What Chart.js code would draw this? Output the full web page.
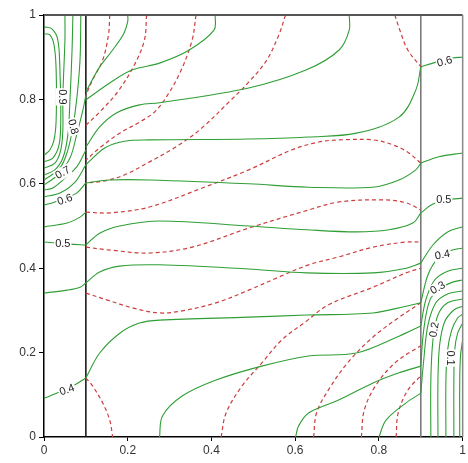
<!DOCTYPE html>
<html>
<head>
<meta charset="utf-8">
<script src="https://cdn.jsdelivr.net/npm/chart.js@4"></script>
<style>
  body { margin: 0; background: #fff; }
  #wrap { width: 468px; height: 463px; }
</style>
</head>
<body>
<div id="wrap"><canvas id="myChart" width="468" height="463"></canvas></div>
<script>
// contour data (x, y in 0..1)
// left strip 0 < x < 0.1
const left1 = [[0,0.955],[0.014,0.953],[0.024,0.929],[0.029,0.870],[0.029,0.751],[0.024,0.704],[0.014,0.680],[0,0.668]];
const left2 = [[0,0.972],[0.019,0.967],[0.033,0.941],[0.038,0.870],[0.040,0.751],[0.036,0.692],[0.021,0.661],[0,0.652]];
const left3 = [[0.050,1],[0.050,0.941],[0.045,0.806],[0.045,0.727],[0.040,0.680],[0.026,0.649],[0,0.637]];
const left4 = [[0.069,1],[0.067,0.917],[0.062,0.799],[0.057,0.716],[0.045,0.661],[0.026,0.633],[0,0.621]];
const left5 = [[0.088,1],[0.086,0.893],[0.078,0.799],[0.069,0.735],[0.057,0.680],[0.038,0.637],[0,0.609]];
const left6 = [[0.1,0.810],[0.093,0.775],[0.078,0.716],[0.062,0.661],[0.033,0.621],[0,0.597]];
const left7 = [[0.1,0.680],[0.078,0.640],[0.045,0.609],[0.021,0.590],[0,0.585]];
const left8 = [[0.1,0.645],[0.074,0.604],[0.038,0.578],[0,0.569]];
const left9 = [[0.1,0.602],[0.078,0.578],[0.050,0.566],[0.021,0.555],[0,0.550]];
const left10 = [[0.1,0.533],[0.086,0.521],[0.055,0.507],[0,0.498]];
const left11 = [[0.1,0.455],[0.062,0.457],[0,0.462]];
const left12 = [[0.1,0.365],[0.086,0.355],[0.055,0.348],[0,0.341]];
const left13 = [[0.1,0.140],[0.069,0.121],[0.014,0.097],[0,0.092]];

// middle 0.1 < x < 0.9
const mid1 = [[0.1,0.818],[0.133,0.877],[0.164,0.917],[0.190,0.955],[0.2,0.985],[0.2,1]];
const mid2 = [[0.1,0.799],[0.157,0.839],[0.211,0.870],[0.276,0.886],[0.347,0.917],[0.406,0.964],[0.409,1]];
const mid3 = [[0.1,0.687],[0.133,0.735],[0.173,0.768],[0.228,0.787],[0.276,0.792],[0.489,0.827],[0.627,0.870],[0.705,0.917],[0.729,0.964],[0.729,1]];
const mid4 = [[0.1,0.645],[0.145,0.685],[0.192,0.701],[0.252,0.704],[0.489,0.706],[0.632,0.711],[0.746,0.720],[0.848,0.758],[0.888,0.822],[0.9,0.877]];
const mid5 = [[0.1,0.602],[0.157,0.609],[0.252,0.609],[0.489,0.600],[0.632,0.592],[0.786,0.592],[0.848,0.609],[0.888,0.633],[0.9,0.649]];
const mid6 = [[0.1,0.455],[0.133,0.483],[0.181,0.500],[0.276,0.512],[0.489,0.500],[0.627,0.491],[0.746,0.486],[0.824,0.491],[0.881,0.507],[0.9,0.531]];
const mid7 = [[0.1,0.365],[0.133,0.391],[0.181,0.405],[0.276,0.408],[0.489,0.398],[0.627,0.389],[0.786,0.389],[0.865,0.400],[0.9,0.412]];
const mid8 = [[0.1,0.140],[0.133,0.199],[0.181,0.246],[0.228,0.270],[0.276,0.277],[0.489,0.284],[0.627,0.289],[0.786,0.294],[0.865,0.310],[0.9,0.318]];
const mid9 = [[0.276,0],[0.283,0.050],[0.330,0.097],[0.411,0.135],[0.520,0.168],[0.632,0.192],[0.746,0.199],[0.848,0.239],[0.9,0.263]];
const mid10 = [[0.601,0],[0.608,0.026],[0.632,0.057],[0.705,0.088],[0.786,0.128],[0.848,0.152],[0.9,0.168]];
const mid11 = [[0.800,0],[0.817,0.040],[0.865,0.081],[0.9,0.104]];

// right strip 0.9 < x < 1
const right1 = [[0.9,0.877],[0.929,0.886],[0.976,0.898],[1,0.900]];
const right2 = [[0.9,0.649],[0.943,0.664],[1,0.673]];
const right3 = [[0.9,0.531],[0.929,0.552],[0.964,0.562],[1,0.566]];
const right4 = [[0.9,0.412],[0.929,0.455],[0.964,0.486],[1,0.498]];
const right5 = [[0.9,0.318],[0.917,0.384],[0.941,0.424],[0.969,0.441],[1,0.448]];
const right6 = [[0.9,0.263],[0.912,0.325],[0.933,0.372],[0.964,0.393],[1,0.400]];
const right7 = [[0.9,0.168],[0.907,0.254],[0.922,0.325],[0.948,0.353],[0.976,0.367],[1,0.372]];
const right8 = [[0.9,0.104],[0.907,0.182],[0.917,0.265],[0.936,0.318],[0.964,0.339],[1,0.346]];
const right9 = [[0.924,0],[0.924,0.135],[0.929,0.230],[0.941,0.289],[0.964,0.318],[1,0.327]];
const right10 = [[0.941,0],[0.941,0.135],[0.945,0.218],[0.957,0.273],[0.979,0.301],[1,0.310]];
const right11 = [[0.960,0],[0.960,0.135],[0.964,0.206],[0.974,0.254],[0.988,0.282],[1,0.291]];
const right12 = [[0.979,0],[0.979,0.135],[0.981,0.206],[0.988,0.246],[1,0.270]];
const right13 = [[0.993,0],[0.993,0.135],[0.995,0.194],[1,0.230]];

// red dashed lines (middle part only)
const dash1 = [[0.157,1],[0.154,0.953],[0.140,0.893],[0.116,0.846],[0.1,0.810]];
const dash2 = [[0.245,1],[0.240,0.941],[0.216,0.882],[0.176,0.818],[0.133,0.770],[0.1,0.739]];
const dash3 = [[0.363,1],[0.354,0.941],[0.328,0.870],[0.295,0.810],[0.264,0.770],[0.228,0.746],[0.181,0.720],[0.133,0.685],[0.1,0.656]];
const dash4 = [[0.577,1],[0.561,0.953],[0.532,0.893],[0.489,0.841],[0.442,0.794],[0.371,0.727],[0.311,0.685],[0.252,0.652],[0.192,0.621],[0.145,0.607],[0.1,0.602]];
const dash5 = [[0.838,1],[0.850,0.964],[0.869,0.917],[0.9,0.877]];
const dash6 = [[0.1,0.533],[0.157,0.531],[0.252,0.545],[0.378,0.590],[0.489,0.633],[0.591,0.680],[0.656,0.699],[0.705,0.704],[0.786,0.704],[0.834,0.692],[0.869,0.675],[0.9,0.649]];
const dash7 = [[0.1,0.450],[0.157,0.443],[0.252,0.436],[0.354,0.450],[0.489,0.495],[0.632,0.538],[0.705,0.557],[0.810,0.562],[0.865,0.555],[0.9,0.538]];
const dash8 = [[0.1,0.341],[0.150,0.325],[0.211,0.306],[0.276,0.294],[0.330,0.299],[0.411,0.318],[0.489,0.348],[0.561,0.379],[0.632,0.408],[0.705,0.427],[0.786,0.450],[0.865,0.462],[0.9,0.462]];
const dash9 = [[0.423,0],[0.435,0.057],[0.473,0.121],[0.520,0.175],[0.568,0.230],[0.625,0.273],[0.679,0.313],[0.786,0.355],[0.865,0.389],[0.9,0.400]];
const dash10 = [[0.1,0.140],[0.116,0.121],[0.140,0.081],[0.157,0.040],[0.164,0]];
const dash11 = [[0.644,0],[0.651,0.057],[0.679,0.111],[0.727,0.178],[0.786,0.237],[0.846,0.282],[0.9,0.318]];
const dash12 = [[0.758,0],[0.765,0.064],[0.793,0.123],[0.841,0.178],[0.9,0.216]];
const dash13 = [[0.841,0],[0.846,0.057],[0.869,0.111],[0.9,0.145]];

// material interfaces
const interfaceX = [0.1, 0.9];

// contour labels
const labelText  = ['0.9', '0.8', '0.7', '0.6', '0.5', '0.4', '0.6', '0.5', '0.4', '0.3', '0.2', '0.1'];
const labelX     = [0.043, 0.069, 0.045, 0.050, 0.045, 0.055, 0.957, 0.955, 0.952, 0.941, 0.933, 0.969];
const labelY     = [0.806, 0.735, 0.626, 0.562, 0.457, 0.111, 0.889, 0.562, 0.431, 0.353, 0.254, 0.187];
const labelAngle = [90, 75, -30, -20, 0, -20, -15, 0, -10, -30, -80, 90];

const tickValues = [0, 0.2, 0.4, 0.6, 0.8, 1];

const greenLines = [left1, left2, left3, left4, left5, left6, left7, left8, left9, left10, left11, left12, left13,
    mid1, mid2, mid3, mid4, mid5, mid6, mid7, mid8, mid9, mid10, mid11,
    right1, right2, right3, right4, right5, right6, right7, right8, right9, right10, right11, right12, right13];
const redLines = [dash1, dash2, dash3, dash4, dash5, dash6, dash7, dash8, dash9, dash10, dash11, dash12, dash13];

function toPts(arr) {
    return arr.map(function (p) { return { x: p[0], y: p[1] }; });
}

var datasets = [];
greenLines.forEach(function (line) {
    datasets.push({
        data: toPts(line),
        showLine: true,
        borderColor: '#2f9e35',
        borderWidth: 1.1,
        pointRadius: 0,
        tension: 0.35
    });
});
redLines.forEach(function (line) {
    datasets.push({
        data: toPts(line),
        showLine: true,
        borderColor: '#cc3d3d',
        borderWidth: 1.2,
        borderDash: [4, 3],
        pointRadius: 0,
        tension: 0.35
    });
});
interfaceX.forEach(function (xv, i) {
    datasets.push({
        data: [{ x: xv, y: 0 }, { x: xv, y: 1 }],
        showLine: true,
        borderColor: i == 0 ? '#1a1a1a' : '#7a7a7a',
        borderWidth: 1.6,
        pointRadius: 0,
        tension: 0
    });
});

// frame + contour labels
const extras = {
    id: 'extras',
    afterDatasetsDraw: function (chart) {
        const c = chart.ctx;
        const a = chart.chartArea;
        const sx = chart.scales.x, sy = chart.scales.y;
        c.save();
        c.strokeStyle = '#555';
        c.lineWidth = 2;
        c.beginPath();
        c.moveTo(a.left, a.top);
        c.lineTo(a.right, a.top);
        c.stroke();
        c.strokeStyle = '#888';
        c.lineWidth = 1.5;
        c.beginPath();
        c.moveTo(a.right, a.top);
        c.lineTo(a.right, a.bottom);
        c.stroke();

        c.font = '11px "Liberation Sans", Arial, sans-serif';
        c.textAlign = 'center';
        c.textBaseline = 'middle';
        for (let i = 0; i < labelText.length; i++) {
            const px = sx.getPixelForValue(labelX[i]);
            const py = sy.getPixelForValue(labelY[i]);
            const w = c.measureText(labelText[i]).width + 2;
            c.save();
            c.translate(px, py);
            c.rotate(labelAngle[i] * Math.PI / 180);
            c.fillStyle = '#fff';
            c.fillRect(-w / 2, -6, w, 12);
            c.fillStyle = '#222';
            c.fillText(labelText[i], 0, 0);
            c.restore();
        }
        c.restore();
    }
};

function fmt(v) {
    return Number(v.toFixed(1)).toString();
}

const ctx = document.getElementById('myChart').getContext('2d');
const myChart = new Chart(ctx, {
    type: 'scatter',
    data: { datasets: datasets },
    plugins: [extras],
    options: {
        responsive: false,
        animation: false,
        layout: { padding: { top: 15, right: 3, left: 0, bottom: 0 } },
        plugins: {
            legend: { display: false },
            tooltip: { enabled: false }
        },
        scales: {
            x: {
                type: 'linear',
                min: 0,
                max: 1,
                afterBuildTicks: function (scale) {
                    scale.ticks = tickValues.map(function (v) { return { value: v }; });
                },
                afterFit: function (scale) { scale.height = 26; },
                ticks: {
                    callback: fmt,
                    color: '#333',
                    font: { family: '"Liberation Sans", Arial, sans-serif', size: 12 },
                    maxRotation: 0,
                    autoSkip: false,
                    padding: 2
                },
                grid: { drawOnChartArea: false, drawTicks: true, tickLength: 4, color: '#000' },
                border: { color: '#000', width: 1.5 }
            },
            y: {
                type: 'linear',
                min: 0,
                max: 1,
                afterBuildTicks: function (scale) {
                    scale.ticks = tickValues.map(function (v) { return { value: v }; });
                },
                afterFit: function (scale) { scale.width = 44; },
                ticks: {
                    callback: fmt,
                    color: '#333',
                    font: { family: '"Liberation Sans", Arial, sans-serif', size: 12 },
                    autoSkip: false,
                    padding: 3
                },
                grid: { drawOnChartArea: false, drawTicks: true, tickLength: 5, color: '#000' },
                border: { color: '#000', width: 1.5 }
            }
        }
    }
});
</script>
</body>
</html>
